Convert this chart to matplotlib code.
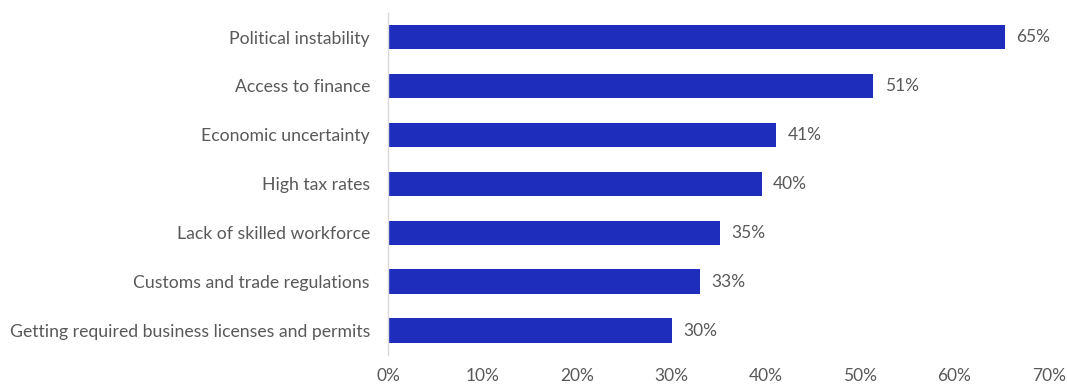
import matplotlib.pyplot as plt
from matplotlib.ticker import MultipleLocator, PercentFormatter

plt.rcParams['font.family'] = ['Lato', 'DejaVu Sans']

categories = ['Political instability', 'Access to finance', 'Economic uncertainty',
              'High tax rates', 'Lack of skilled workforce',
              'Customs and trade regulations',
              'Getting required business licenses and permits']
values = [65.3, 51.4, 41.1, 39.6, 35.2, 33.0, 30.1]
labels = ['65%', '51%', '41%', '40%', '35%', '33%', '30%']

text_color = '#595959'
bar_color = '#1F2DBD'

fig = plt.figure(figsize=(10.67, 3.88), dpi=100)
ax = fig.add_axes([0.3636, 0.085, 0.6195, 0.8825])

y = list(range(len(categories)))[::-1]
ax.barh(y, values, height=0.5, color=bar_color)
for yi, v, lab in zip(y, values, labels):
    ax.text(v + 1.2, yi, lab, va='center', ha='left', fontsize=12.5, color=text_color)

ax.set_xlim(0, 70)
ax.set_ylim(-0.5, len(categories) - 0.5)
ax.set_yticks(y)
ax.set_yticklabels(categories)
ax.xaxis.set_major_locator(MultipleLocator(10))
ax.xaxis.set_major_formatter(PercentFormatter(decimals=0))
ax.tick_params(axis='both', length=0, labelsize=12.5, labelcolor=text_color)
ax.tick_params(axis='y', labelsize=12.7, pad=13)
ax.tick_params(axis='x', pad=9)

for s in ['top', 'right', 'bottom']:
    ax.spines[s].set_visible(False)
ax.spines['left'].set_color('#D9D9D9')
ax.spines['left'].set_linewidth(1.0)

fig.savefig('out.png', dpi=100)
